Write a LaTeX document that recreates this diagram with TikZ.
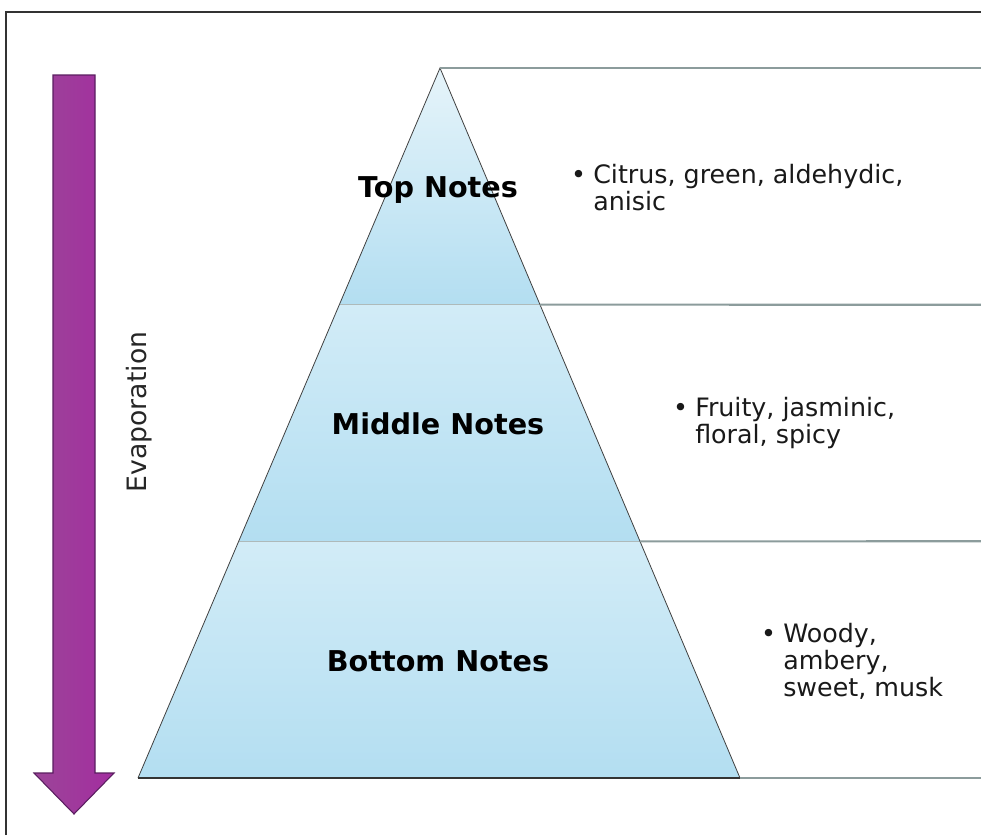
\documentclass[tikz,border=0pt]{standalone}
\usepackage{fontspec}
\setmainfont{DejaVu Sans}
\usepackage{xcolor}
\usetikzlibrary{calc}

\definecolor{evapurple}{HTML}{93358F}
\definecolor{evaedge}{HTML}{5A1E60}
\definecolor{bandline}{HTML}{8C9C9C}
\definecolor{skylight}{HTML}{E6F4FA}
\definecolor{skymid}{HTML}{D2ECF7}
\definecolor{skydeep}{HTML}{B3DEF1}

\tikzset{
  notelabel/.style={font=\bfseries\fontsize{21.5}{24}\selectfont, text=black},
  notetext/.style={font=\fontsize{19}{20.6}\selectfont, text=black!90, inner sep=0pt, anchor=base west},
  rowline/.style={bandline, line width=1.6pt},
}
\newcommand{\notelines}[1]{\begin{tabular}[t]{@{}l@{}}#1\end{tabular}}

\begin{document}
\begin{tikzpicture}[x=0.75pt, y=-0.75pt]
\useasboundingbox (0,0) rectangle (981,835);

% Frame
\draw[line width=1.3pt, black!80] (6,835) -- (6,12) -- (981,12);

% Pyramid corners
\coordinate (apex) at (440,68);
\coordinate (bl) at (138,778);
\coordinate (br) at (740,778);
\coordinate (ml) at ($(apex)!1/3!(bl)$);
\coordinate (mr) at ($(apex)!1/3!(br)$);
\coordinate (ll) at ($(apex)!2/3!(bl)$);
\coordinate (lr) at ($(apex)!2/3!(br)$);

% Bands
\shade[top color=skylight, bottom color=skydeep] (apex) -- (ml) -- (mr) -- cycle;
\shade[top color=skymid, bottom color=skydeep] (ml) -- (ll) -- (lr) -- (mr) -- cycle;
\shade[top color=skymid, bottom color=skydeep] (ll) -- (bl) -- (br) -- (lr) -- cycle;

% Band separators and outline
\draw[bandline!70, line width=0.8pt] (ml) -- (mr);
\draw[bandline!70, line width=0.8pt] (ll) -- (lr);
\draw[black!75, line width=0.6pt] (bl) -- (apex) -- (br);
\draw[black!80, line width=1pt] (bl) -- (br);

% Row lines
\draw[rowline] (apex) -- (981,68);
\draw[rowline] (mr) -- (981,304.7);
\draw[rowline] (lr) -- (981,541.3);
\draw[rowline] (br) -- (981,778);

% Labels
\node[notelabel] (top) at (438,190) {Top Notes};
\node[notelabel] (middle) at (438,424) {Middle Notes};
\node[notelabel] (bottom) at (438,661) {Bottom Notes};

% Descriptions
\node[notetext] (toptext) at (593,183) {\notelines{Citrus, green, aldehydic,\\anisic}};
\node[notetext, anchor=base east] (topdot) at ([xshift=-5pt]toptext.base west) {\textbullet};
\node[notetext] (middletext) at (695,416) {\notelines{Fruity, jasminic,\\floral, spicy}};
\node[notetext, anchor=base east] (middledot) at ([xshift=-5pt]middletext.base west) {\textbullet};
\node[notetext] (bottomtext) at (783,642) {\notelines{Woody,\\ambery,\\sweet, musk}};
\node[notetext, anchor=base east] (bottomdot) at ([xshift=-5pt]bottomtext.base west) {\textbullet};

% Evaporation arrow
\shade[left color=evapurple!92!white, right color=evapurple!85!magenta, draw=evaedge, line width=0.8pt]
  (53,75) -- (95,75) -- (95,773) -- (114,773) -- (74,814) -- (34,773) -- (53,773) -- cycle;
\node[font=\fontsize{20}{22}\selectfont, text=black!85, rotate=90] (evap) at (139,412) {Evaporation};

\end{tikzpicture}
\end{document}
